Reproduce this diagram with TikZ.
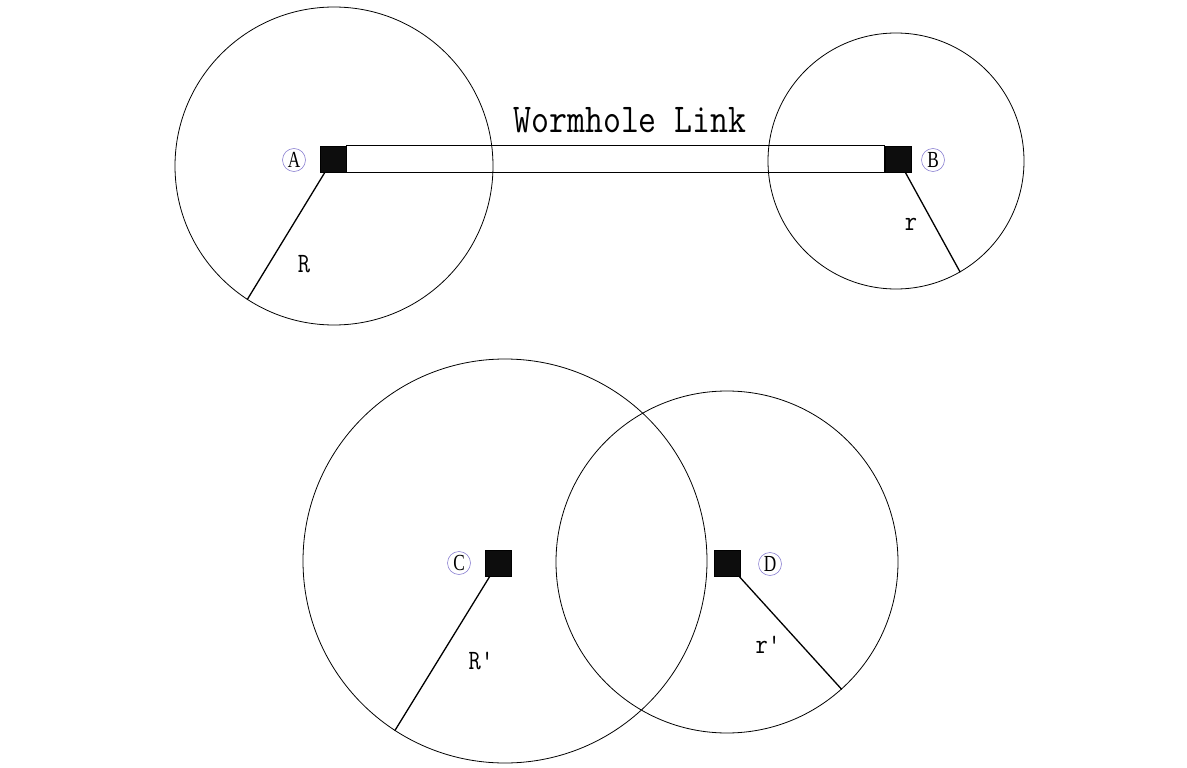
\documentclass[tikz,border=0pt]{standalone}
\usepackage{graphicx}
\usepackage{fontspec}
\newfontfamily\tagfont{Liberation Serif}
\begin{document}
\begin{tikzpicture}[x=1pt,y=-1pt,
  ring/.style={circle,draw,line width=0.8pt,inner sep=0pt},
  sq/.style={rectangle,fill=black!95,draw=black,line width=0.5pt,minimum size=26pt,inner sep=0pt},
  tag/.style={circle,draw={rgb,255:red,140;green,130;blue,210},text=black,line width=0.6pt,minimum size=23pt,inner sep=0pt,font=\tagfont\fontsize{23}{23}\selectfont},
  rad/.style={line width=1.3pt},
  lbl/.style={font=\fontsize{28}{28}\ttfamily}
]
\useasboundingbox (0,0) rectangle (1187,768);
% circles
\node[ring,minimum size=318pt] (cA) at (334,166) {};
\node[ring,minimum size=256pt] (cB) at (896,161) {};
\node[ring,minimum size=404pt] (cC) at (505,561) {};
\node[ring,minimum size=342pt] (cD) at (727,562) {};
% squares
\node[sq] (sqA) at (333,159) {};
\node[sq] (sqB) at (898,159) {};
\node[sq] (sqC) at (498,563) {};
\node[sq] (sqD) at (727,563) {};
% wormhole bar
\draw[line width=0.8pt] (sqA.north east) rectangle (sqB.south west);
\node (wl) at (630,120) {\scalebox{0.85}[1]{\fontsize{41}{41}\ttfamily Wormhole Link}};
% radius lines
\draw[rad] (sqA) -- (cA.237);
\draw[rad] (sqB) -- (cB.300);
\draw[rad] (sqC) -- (cC.237);
\draw[rad] (sqD) -- (cD.312.6);
% radius labels
\node[lbl] (lR) at (304,264) {\scalebox{0.85}[1]{R}};
\node[lbl] (lr) at (911,224) {\scalebox{0.85}[1]{r}};
\node[lbl] (lRp) at (481,661) {\scalebox{0.85}[1]{R'}};
\node[lbl] (lrp) at (768,645) {\scalebox{0.85}[1]{r'}};
% circled letters
\node[tag] (tA) at (294,160) {\scalebox{0.75}[1]{A}};
\node[tag] (tB) at (933,160) {\scalebox{0.75}[1]{B}};
\node[tag] (tC) at (459,563) {\scalebox{0.75}[1]{C}};
\node[tag] (tD) at (770,564) {\scalebox{0.75}[1]{D}};
\end{tikzpicture}
\end{document}
